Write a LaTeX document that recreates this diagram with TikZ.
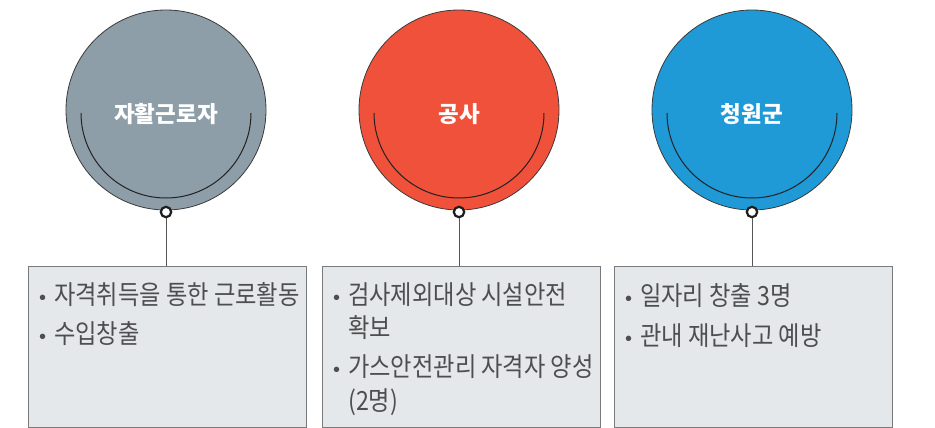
\documentclass[tikz,border=0pt]{standalone}
\usepackage{fontspec}
\newfontfamily\kr[FakeStretch=0.88]{Noto Sans CJK KR}
\newfontfamily\krt{Noto Sans CJK KR}
\newfontfamily\bul{Liberation Sans}
\definecolor{cgray}{HTML}{8E9EA9}
\definecolor{cred}{HTML}{F0513A}
\definecolor{cblue}{HTML}{1F9AD7}
\definecolor{circline}{HTML}{3A3A3A}
\definecolor{arcline}{HTML}{222222}
\definecolor{dotline}{HTML}{1E1E1E}
\definecolor{connline}{HTML}{555555}
\definecolor{boxline}{HTML}{7A7A7A}
\definecolor{boxfill}{HTML}{E4E8EB}
\definecolor{txtcol}{HTML}{4E4E4E}
\newcommand\bu{\makebox[15pt][l]{\bul\fontsize{20}{24}\selectfont •}}
\begin{document}
\begin{tikzpicture}[x=1pt,y=-1pt,
  big/.style={circle, minimum size=200pt, inner sep=0pt, draw=circline, line width=0.8pt},
  title/.style={font=\krt\bfseries\fontsize{22.5}{26}\selectfont, text=white, inner sep=0pt},
  innerarc/.style={draw=arcline, line width=1pt},
  dot/.style={circle, minimum size=10.4pt, inner sep=0pt, fill=white, draw=dotline, line width=2.2pt},
  conn/.style={draw=connline, line width=1pt},
  infobox/.style={draw=boxline, fill=boxfill, line width=1.2pt, minimum width=278pt, minimum height=161pt, inner sep=0pt, anchor=north west},
  txt/.style={anchor=base west, inner sep=0pt, font=\kr\fontsize{26.4}{30}\selectfont, text=txtcol}]
\useasboundingbox (0,0) rectangle (935,428);

% circles
\node[big, fill=cgray] (c1) at (166,110) {};
\node[big, fill=cred]  (c2) at (459,110) {};
\node[big, fill=cblue] (c3) at (752,110) {};

\draw[innerarc] (81,113) arc[start angle=180, end angle=0, radius=85];
\draw[innerarc] (374,113) arc[start angle=180, end angle=0, radius=85];
\draw[innerarc] (667,113) arc[start angle=180, end angle=0, radius=85];

\node[title] (t1) at (166,114) {자활근로자};
\node[title] (t2) at (459,114) {공사};
\node[title] (t3) at (752,114) {청원군};

% boxes
\node[infobox] (b1) at (28,266) {};
\node[infobox] (b2) at (322,266) {};
\node[infobox] (b3) at (614,266) {};

% dots and connectors
\node[dot] (d1) at (166,212) {};
\node[dot] (d2) at (459,212) {};
\node[dot] (d3) at (752,212) {};
\draw[conn] (d1.south) -- (d1.south |- b1.north);
\draw[conn] (d2.south) -- (d2.south |- b2.north);
\draw[conn] (d3.south) -- (d3.south |- b3.north);

% texts
\node[txt] (l11) at (39,304) {\bu 자격취득을 통한 근로활동};
\node[txt] (l12) at (39,343) {\bu 수입창출};

\node[txt] (l21) at (333,304) {\bu 검사제외대상 시설안전};
\node[txt] (l22) at (348,337) {확보};
\node[txt] (l23) at (333,376) {\bu 가스안전관리 자격자 양성};
\node[txt] (l24) at (348,410) {(2명)};

\node[txt] (l31) at (625,305) {\bu 일자리 창출 3명};
\node[txt] (l32) at (625,345) {\bu 관내 재난사고 예방};
\end{tikzpicture}
\end{document}
